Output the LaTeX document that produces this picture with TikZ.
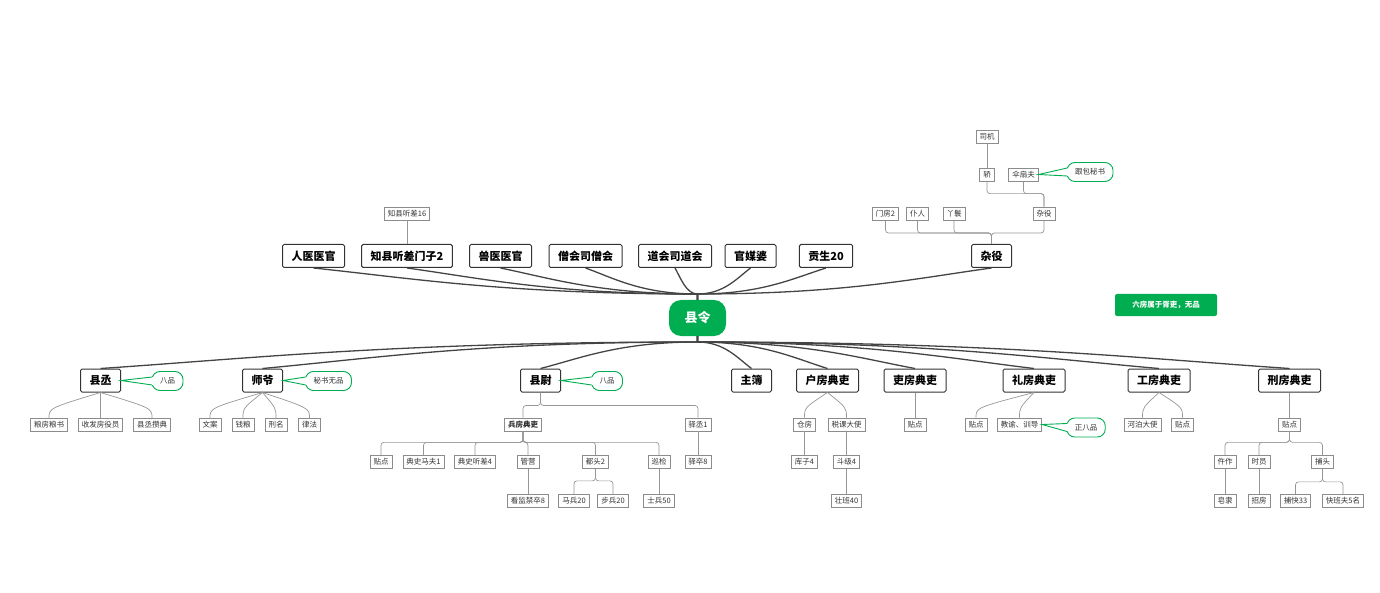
\documentclass[tikz,border=0pt]{standalone}
\usepackage{fontspec}
\setmainfont{Noto Sans CJK SC}
\usepackage{xcolor}
\definecolor{mapgreen}{RGB}{0, 173, 80}
\definecolor{boxdark}{RGB}{51, 51, 51}
\definecolor{boxgrey}{RGB}{140, 140, 140}
\definecolor{linegrey}{RGB}{150, 150, 150}
\definecolor{trunkgrey}{RGB}{68, 68, 68}
\usepackage{tikz}
\usetikzlibrary{calc}

\tikzset{
  rootbox/.style={fill=mapgreen, rounded corners=12pt, minimum width=57pt, minimum height=36pt, text=white, font=\fontsize{13}{14}\selectfont\bfseries},
  notebox/.style={fill=mapgreen, rounded corners=2pt, minimum width=102pt, minimum height=22pt, text=white, font=\fontsize{7.5}{9}\selectfont\bfseries},
  mainbox/.style={draw=boxdark, line width=1pt, rounded corners=1.5pt, fill=white, minimum height=23pt, inner xsep=9pt, inner ysep=0pt, font=\fontsize{11}{12}\selectfont\bfseries},
  subbox/.style={draw=boxgrey, line width=0.7pt, fill=white, minimum height=13pt, inner xsep=3.5pt, inner ysep=0pt, text=boxdark, font=\fontsize{7.5}{8}\selectfont},
  callbox/.style={draw=mapgreen, line width=0.9pt, fill=white, rounded corners=8pt, minimum height=19pt, inner xsep=8pt, text=boxdark, font=\fontsize{7.5}{8}\selectfont},
  trunk/.style={draw=trunkgrey, line width=1.3pt},
  twig/.style={draw=linegrey, line width=0.7pt},
  elbowline/.style={draw=linegrey, line width=0.7pt, rounded corners=3pt},
  tailline/.style={draw=mapgreen, line width=0.9pt}
}

% links from the root
\newcommand\uplink[1]{\draw[trunk] (xl.north) -- (xlt) .. controls ($(xlt)!.5!(xlt -| #1.south)$) and ($(#1.south)!.25!(#1.south -| xlt)+(0,-10)$) .. (#1.south);}
\newcommand\downlink[1]{\draw[trunk] (xl.south) -- (xlb) .. controls ($(xlb)!.5!(xlb -| #1.north)$) and ($(#1.north)!.25!(#1.north -| xlb)+(0,10)$) .. (#1.north);}
% small links
\newcommand\twig[2]{\draw[twig] (#1.south) .. controls ($(#2.north)+(0,10)$) .. (#2.north);}
\newcommand\elbow[3]{\draw[elbowline] (#1.south) -- ++(0,-#3) -| (#2.north);}
\newcommand\elbowup[3]{\draw[elbowline] (#1.north) -- ++(0,#3) -| (#2.south);}
\newcommand\calltail[2]{%
  \fill[white] (#1.east) -- ($(#2.west)+(2.5,4)$) -- ($(#2.west)+(2.5,-4)$) -- cycle;
  \draw[tailline] ($(#2.west)+(0.6,4)$) -- (#1.east) -- ($(#2.west)+(0.6,-4)$);}

\begin{document}
\begin{tikzpicture}[x=1pt, y=1pt]
  \useasboundingbox (0,0) rectangle (1380,-593);

  % root and note
  \node[rootbox] (xl) at (697.5,-318) {县令};
  \coordinate (xlt) at (697.5,-294);
  \coordinate (xlb) at (697.5,-342);
  \node[notebox] (note) at (1166,-305) {六房属于胥吏，无品};

  % upper row
  \node[mainbox] (rygg) at (313.5,-256) {人医医官};
  \node[mainbox] (tcmz) at (407,-256) {知县听差门子2};
  \node[mainbox] (sygg) at (500.5,-256) {兽医医官};
  \node[mainbox] (shs) at (585.5,-256) {僧会司僧会};
  \node[mainbox] (dhs) at (675,-256) {道会司道会};
  \node[mainbox] (gmp) at (750.5,-256) {官媒婆};
  \node[mainbox] (gs) at (826,-256) {贡生20};
  \node[mainbox] (zy) at (991.5,-256) {杂役};

  \foreach \n in {rygg, tcmz, sygg, shs, dhs, gmp, gs, zy} {\uplink{\n}}

  \node[subbox] (tc16) at (407,-213.5) {知县听差16};
  \draw[twig] (tcmz) -- (tc16);

  % servants above zy
  \node[subbox] (mf) at (885.5,-213.5) {门房2};
  \node[subbox] (pr) at (917.5,-213.5) {仆人};
  \node[subbox] (yh) at (954,-213.5) {丫鬟};
  \node[subbox] (zy2) at (1044,-213.5) {杂役};
  \node[subbox] (jiao) at (987,-174.5) {轿};
  \node[subbox] (ssf) at (1023.5,-174.5) {伞扇夫};
  \node[subbox] (sj) at (987,-137) {司机};
  \node[callbox] (gbms) at (1090,-172) {跟包秘书};

  \foreach \n in {mf, pr, yh, zy2} {\elbowup{zy}{\n}{11}}
  \foreach \n in {jiao, ssf} {\elbowup{zy2}{\n}{13}}
  \draw[twig] (jiao) -- (sj);
  \calltail{ssf}{gbms}

  % lower row
  \node[mainbox] (xc) at (100.5,-380.5) {县丞};
  \node[mainbox] (shiye) at (262.5,-380.5) {师爷};
  \node[mainbox] (xw) at (540.5,-380.5) {县尉};
  \node[mainbox] (zb) at (751.5,-380.5) {主簿};
  \node[mainbox] (hufang) at (827.5,-380.5) {户房典吏};
  \node[mainbox] (lifang) at (915,-380.5) {吏房典吏};
  \node[mainbox] (lifangb) at (1034,-380.5) {礼房典吏};
  \node[mainbox] (gongfang) at (1159,-380.5) {工房典吏};
  \node[mainbox] (xingfang) at (1289.5,-380.5) {刑房典吏};

  \foreach \n in {xc, shiye, xw, zb, hufang, lifang, lifangb, gongfang, xingfang} {\downlink{\n}}

  % rank callouts
  \node[callbox] (bp1) at (167.5,-381) {八品};
  \node[callbox] (msw) at (328.5,-381) {秘书无品};
  \node[callbox] (bp2) at (607,-381) {八品};
  \calltail{xc}{bp1}
  \calltail{shiye}{msw}
  \calltail{xw}{bp2}

  % under xc and shiye
  \node[subbox] (lfls) at (49,-425) {粮房粮书};
  \node[subbox] (sfy) at (100.5,-425) {收发房役员};
  \node[subbox] (zd) at (152,-425) {县丞攒典};
  \node[subbox] (wa) at (210,-425) {文案};
  \node[subbox] (ql) at (243,-425) {钱粮};
  \node[subbox] (xm) at (276,-425) {刑名};
  \node[subbox] (lf) at (309.5,-425) {律法};
  \foreach \n in {lfls, sfy, zd} {\twig{xc}{\n}}
  \foreach \n in {wa, ql, xm, lf} {\twig{shiye}{\n}}

  % under xw
  \node[subbox, font=\fontsize{7.5}{8}\selectfont\bfseries] (bf) at (523,-424.5) {兵房典吏};
  \node[subbox] (yc) at (698,-424.5) {驿丞1};
  \elbow{xw}{bf}{13}
  \elbow{xw}{yc}{13}

  \node[subbox] (td1) at (381,-462) {贴点};
  \node[subbox] (mf1) at (423.5,-462) {典史马夫1};
  \node[subbox] (tc4) at (475,-462) {典史听差4};
  \node[subbox] (gy) at (528,-462) {管营};
  \node[subbox] (dt) at (595.5,-462) {都头2};
  \node[subbox] (xj) at (659,-462) {巡检};
  \node[subbox] (yz) at (698,-462) {驿卒8};
  \foreach \n in {td1, mf1, tc4, gy, dt, xj} {\elbow{bf}{\n}{11}}
  \draw[twig] (yc) -- (yz);

  \node[subbox] (kj) at (528,-501) {看监禁卒8};
  \node[subbox] (mb) at (574,-501) {马兵20};
  \node[subbox] (bb) at (613,-501) {步兵20};
  \node[subbox] (sb) at (659,-501) {士兵50};
  \draw[twig] (gy) -- (kj);
  \elbow{dt}{mb}{12}
  \elbow{dt}{bb}{12}
  \draw[twig] (xj) -- (sb);

  % under hufang and lifang
  \node[subbox] (cf) at (804.5,-424.5) {仓房};
  \node[subbox] (sk) at (846.5,-424.5) {税课大使};
  \node[subbox] (kz) at (804.5,-462) {库子4};
  \node[subbox] (dj) at (846.5,-462) {斗级4};
  \node[subbox] (zb40) at (846.5,-501) {壮班40};
  \twig{hufang}{cf}
  \twig{hufang}{sk}
  \draw[twig] (cf) -- (kz);
  \draw[twig] (sk) -- (dj);
  \draw[twig] (dj) -- (zb40);

  \node[subbox] (td2) at (915,-424.5) {贴点};
  \draw[twig] (lifang) -- (td2);

  % under lifangb and gongfang
  \node[subbox] (td3) at (976,-424.5) {贴点};
  \node[subbox] (jy) at (1019.5,-424.5) {教谕、训导};
  \node[callbox] (zbp) at (1086,-427.5) {正八品};
  \twig{lifangb}{td3}
  \twig{lifangb}{jy}
  \calltail{jy}{zbp}

  \node[subbox] (hb) at (1142.5,-424.5) {河泊大使};
  \node[subbox] (td4) at (1182.5,-424.5) {贴点};
  \twig{gongfang}{hb}
  \twig{gongfang}{td4}

  % under xingfang
  \node[subbox] (td5) at (1289.5,-424.5) {贴点};
  \draw[twig] (xingfang) -- (td5);
  \node[subbox] (wz) at (1225,-462) {仵作};
  \node[subbox] (sy) at (1259,-462) {时员};
  \node[subbox] (bt) at (1322.5,-462) {捕头};
  \foreach \n in {wz, sy, bt} {\elbow{td5}{\n}{11}}

  \node[subbox] (zl) at (1225,-501) {皂隶};
  \node[subbox] (zf) at (1259,-501) {招房};
  \node[subbox] (bk) at (1295.5,-501) {捕快33};
  \node[subbox] (kb) at (1343,-501) {快班夫5名};
  \draw[twig] (wz) -- (zl);
  \draw[twig] (sy) -- (zf);
  \elbow{bt}{bk}{13}
  \elbow{bt}{kb}{13}

\end{tikzpicture}
\end{document}
